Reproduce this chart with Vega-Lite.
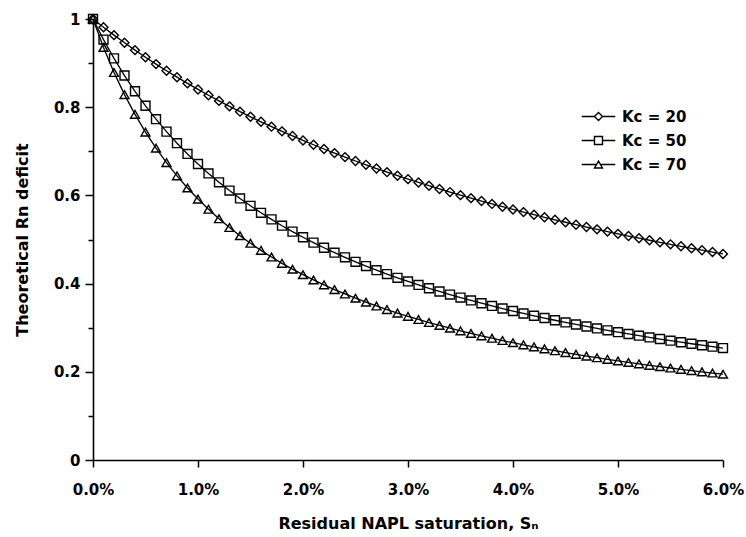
{
  "$schema": "https://vega.github.io/schema/vega-lite/v6.json",
  "width": 630,
  "height": 441,
  "autosize": {"type": "none"},
  "padding": {"left": 93, "top": 19, "right": 23, "bottom": 77},
  "background": "white",
  "config": {
    "view": {"stroke": null},
    "font": "DejaVu Sans",
    "axis": {
      "grid": false,
      "domainColor": "black",
      "domainWidth": 1.6,
      "tickColor": "black",
      "tickWidth": 1.5,
      "labelFont": "DejaVu Sans",
      "labelFontWeight": "bold",
      "labelFontSize": 15,
      "labelColor": "black",
      "titleFont": "DejaVu Sans",
      "titleFontWeight": "bold",
      "titleFontSize": 16,
      "titleColor": "black"
    }
  },
  "data": {
    "values": [
      {"S": 0.000, "k20": 1, "k50": 1, "k70": 1},
      {"S": 0.001, "k20": 0.9814, "k50": 0.9533, "k70": 0.9355},
      {"S": 0.002, "k20": 0.9634, "k50": 0.9107, "k70": 0.8787},
      {"S": 0.003, "k20": 0.9461, "k50": 0.8718, "k70": 0.8285},
      {"S": 0.004, "k20": 0.9294, "k50": 0.8361, "k70": 0.7837},
      {"S": 0.005, "k20": 0.9132, "k50": 0.8032, "k70": 0.7435},
      {"S": 0.006, "k20": 0.8977, "k50": 0.7728, "k70": 0.7072},
      {"S": 0.007, "k20": 0.8826, "k50": 0.7446, "k70": 0.6743},
      {"S": 0.008, "k20": 0.8681, "k50": 0.7184, "k70": 0.6443},
      {"S": 0.009, "k20": 0.8540, "k50": 0.6940, "k70": 0.6169},
      {"S": 0.010, "k20": 0.8403, "k50": 0.6711, "k70": 0.5917},
      {"S": 0.011, "k20": 0.8271, "k50": 0.6498, "k70": 0.5685},
      {"S": 0.012, "k20": 0.8143, "k50": 0.6297, "k70": 0.5470},
      {"S": 0.013, "k20": 0.8019, "k50": 0.6109, "k70": 0.5271},
      {"S": 0.014, "k20": 0.7899, "k50": 0.5931, "k70": 0.5087},
      {"S": 0.015, "k20": 0.7782, "k50": 0.5764, "k70": 0.4914},
      {"S": 0.016, "k20": 0.7669, "k50": 0.5605, "k70": 0.4753},
      {"S": 0.017, "k20": 0.7559, "k50": 0.5456, "k70": 0.4602},
      {"S": 0.018, "k20": 0.7452, "k50": 0.5313, "k70": 0.4460},
      {"S": 0.019, "k20": 0.7348, "k50": 0.5179, "k70": 0.4327},
      {"S": 0.020, "k20": 0.7246, "k50": 0.5051, "k70": 0.4202},
      {"S": 0.021, "k20": 0.7148, "k50": 0.4929, "k70": 0.4083},
      {"S": 0.022, "k20": 0.7052, "k50": 0.4812, "k70": 0.3971},
      {"S": 0.023, "k20": 0.6959, "k50": 0.4701, "k70": 0.3865},
      {"S": 0.024, "k20": 0.6868, "k50": 0.4596, "k70": 0.3765},
      {"S": 0.025, "k20": 0.6780, "k50": 0.4494, "k70": 0.3670},
      {"S": 0.026, "k20": 0.6693, "k50": 0.4398, "k70": 0.3579},
      {"S": 0.027, "k20": 0.6609, "k50": 0.4305, "k70": 0.3493},
      {"S": 0.028, "k20": 0.6527, "k50": 0.4216, "k70": 0.3411},
      {"S": 0.029, "k20": 0.6447, "k50": 0.4131, "k70": 0.3332},
      {"S": 0.030, "k20": 0.6369, "k50": 0.4049, "k70": 0.3257},
      {"S": 0.031, "k20": 0.6293, "k50": 0.3970, "k70": 0.3186},
      {"S": 0.032, "k20": 0.6219, "k50": 0.3894, "k70": 0.3117},
      {"S": 0.033, "k20": 0.6146, "k50": 0.3821, "k70": 0.3052},
      {"S": 0.034, "k20": 0.6075, "k50": 0.3751, "k70": 0.2989},
      {"S": 0.035, "k20": 0.6006, "k50": 0.3683, "k70": 0.2928},
      {"S": 0.036, "k20": 0.5938, "k50": 0.3618, "k70": 0.2870},
      {"S": 0.037, "k20": 0.5872, "k50": 0.3555, "k70": 0.2815},
      {"S": 0.038, "k20": 0.5807, "k50": 0.3494, "k70": 0.2761},
      {"S": 0.039, "k20": 0.5744, "k50": 0.3435, "k70": 0.2709},
      {"S": 0.040, "k20": 0.5682, "k50": 0.3378, "k70": 0.2660},
      {"S": 0.041, "k20": 0.5621, "k50": 0.3323, "k70": 0.2612},
      {"S": 0.042, "k20": 0.5562, "k50": 0.3270, "k70": 0.2565},
      {"S": 0.043, "k20": 0.5504, "k50": 0.3219, "k70": 0.2521},
      {"S": 0.044, "k20": 0.5447, "k50": 0.3169, "k70": 0.2478},
      {"S": 0.045, "k20": 0.5391, "k50": 0.3120, "k70": 0.2436},
      {"S": 0.046, "k20": 0.5336, "k50": 0.3073, "k70": 0.2396},
      {"S": 0.047, "k20": 0.5283, "k50": 0.3028, "k70": 0.2357},
      {"S": 0.048, "k20": 0.5230, "k50": 0.2983, "k70": 0.2319},
      {"S": 0.049, "k20": 0.5179, "k50": 0.2940, "k70": 0.2283},
      {"S": 0.050, "k20": 0.5128, "k50": 0.2899, "k70": 0.2247},
      {"S": 0.051, "k20": 0.5079, "k50": 0.2858, "k70": 0.2213},
      {"S": 0.052, "k20": 0.5030, "k50": 0.2819, "k70": 0.2180},
      {"S": 0.053, "k20": 0.4983, "k50": 0.2780, "k70": 0.2147},
      {"S": 0.054, "k20": 0.4936, "k50": 0.2743, "k70": 0.2116},
      {"S": 0.055, "k20": 0.4890, "k50": 0.2706, "k70": 0.2086},
      {"S": 0.056, "k20": 0.4845, "k50": 0.2671, "k70": 0.2056},
      {"S": 0.057, "k20": 0.4801, "k50": 0.2636, "k70": 0.2027},
      {"S": 0.058, "k20": 0.4757, "k50": 0.2603, "k70": 0.1999},
      {"S": 0.059, "k20": 0.4715, "k50": 0.2570, "k70": 0.1972},
      {"S": 0.060, "k20": 0.4673, "k50": 0.2538, "k70": 0.1946}
    ]
  },
  "transform": [{"fold": ["k20", "k50", "k70"], "as": ["series", "D"]}],
  "encoding": {
    "x": {
      "field": "S",
      "type": "quantitative",
      "scale": {"domain": [0, 0.06], "nice": false},
      "axis": {
        "title": "Residual NAPL saturation, Sₙ",
        "values": [0, 0.01, 0.02, 0.03, 0.04, 0.05, 0.06],
        "format": ".1%",
        "labelFlush": false,
        "tickSize": 7,
        "labelPadding": 15,
        "titlePadding": 18
      }
    },
    "y": {
      "field": "D",
      "type": "quantitative",
      "scale": {"domain": [0, 1], "nice": false},
      "axis": {
        "title": "Theoretical Rn deficit",
        "values": [0, 0.1, 0.2, 0.3, 0.4, 0.5, 0.6, 0.7, 0.8, 0.9, 1],
        "format": ".1~f",
        "labelExpr": "round(datum.value * 10) % 2 === 0 ? datum.label : ''",
        "tickSize": {"condition": {"test": "round(datum.value * 10) % 2 === 0", "value": 8}, "value": 5},
        "labelPadding": 5,
        "titlePadding": 23
      }
    }
  },
  "layer": [
    {
      "mark": {"type": "line", "stroke": "black", "strokeWidth": 1.3},
      "encoding": {"detail": {"field": "series", "type": "nominal"}}
    },
    {
      "mark": {"type": "point", "filled": false, "stroke": "black", "strokeWidth": 1.4, "opacity": 1, "size": 80},
      "encoding": {
        "shape": {
          "field": "series",
          "type": "nominal",
          "scale": {"domain": ["k20", "k50", "k70"], "range": ["diamond", "square", "triangle-up"]},
          "legend": null
        }
      }
    },
    {
      "transform": [{"filter": "false"}],
      "mark": {"type": "point", "filled": false, "stroke": "black", "strokeWidth": 1.4, "opacity": 1},
      "encoding": {
        "shape": {
          "field": "series",
          "type": "nominal",
          "scale": {
            "domain": ["k20", "k50", "k70"],
            "range": [
              "M-4.2,0H-1M1,0H4.2M0,-1L1,0L0,1L-1,0Z",
              "M-4.2,0H-1M1,0H4.2M-1,-1H1V1H-1Z",
              "M-4.2,0H-0.5M0.5,0H4.2M0,-0.866L1,0.866L-1,0.866Z"
            ]
          },
          "legend": {
            "orient": "none",
            "legendX": 487,
            "legendY": 90,
            "title": null,
            "padding": 0,
            "rowPadding": 8,
            "symbolSize": 64,
            "symbolStrokeColor": "black",
            "symbolFillColor": "white",
            "symbolStrokeWidth": 1.4,
            "symbolOffset": 11,
            "labelOffset": 16,
            "labelFont": "DejaVu Sans",
            "labelFontWeight": "bold",
            "labelFontSize": 15,
            "labelColor": "black",
            "labelExpr": "'Kc = ' + slice(datum.label, 1)"
          }
        }
      }
    }
  ],
  "resolve": {"scale": {"shape": "independent"}}
}
